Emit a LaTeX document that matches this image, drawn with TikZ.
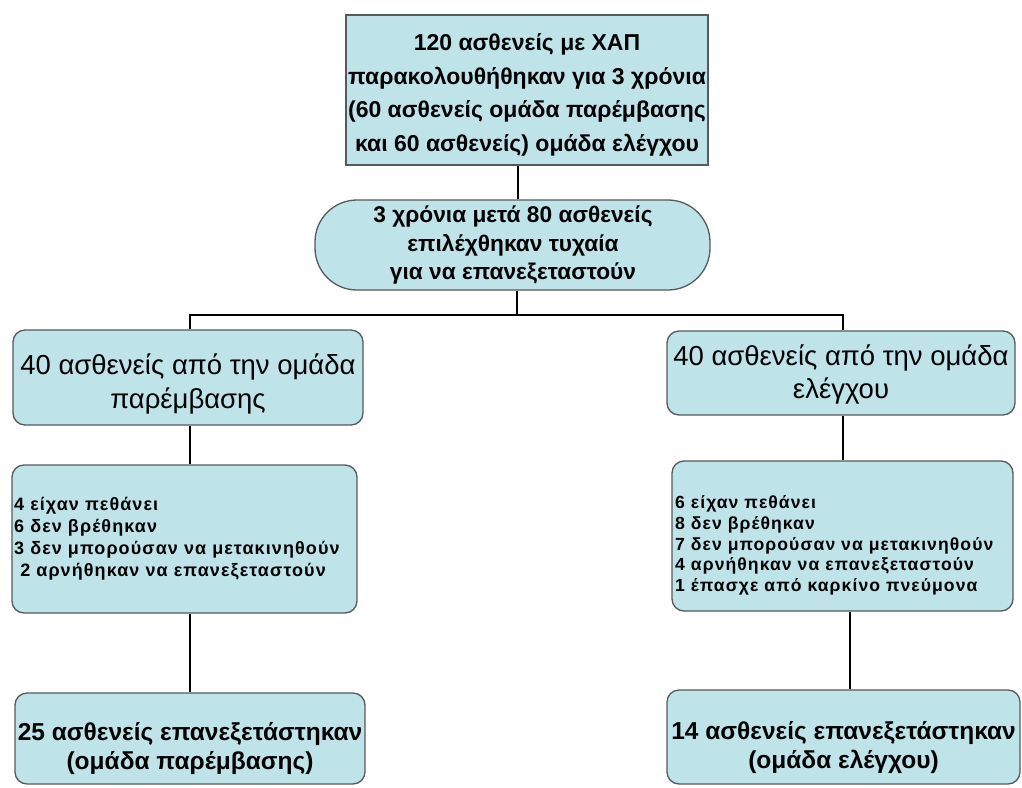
\documentclass[tikz,border=0pt]{standalone}
\usepackage{fontspec}
\setmainfont{Liberation Sans}
\newfontfamily\listfont[LetterSpace=6]{Liberation Sans}
\definecolor{boxfill}{RGB}{190,227,232}
\definecolor{boxline}{RGB}{85,90,92}
\begin{document}
\begin{tikzpicture}[x=1pt,y=-1pt,
  box/.style={draw=boxline, fill=boxfill, line width=1.3pt, rounded corners=12pt, inner sep=0pt},
  txt/.style={inner sep=0pt, align=center},
  listtxt/.style={inner sep=0pt, align=left, anchor=west},
  conn/.style={draw=black, line width=2.4pt}]
\useasboundingbox[fill=white] (0,0) rectangle (1022,787);
% boxes
\node[box, rounded corners=0pt, minimum width=362pt, minimum height=150pt] (top) at (527,90) {};
\node[box, rounded corners=42pt, minimum width=395pt, minimum height=90pt] (stad) at (512.5,245) {};
\node[box, minimum width=350pt, minimum height=95pt] (L1) at (188,377.5) {};
\node[box, minimum width=348pt, minimum height=84pt] (R1) at (841,373) {};
\node[box, minimum width=345pt, minimum height=148pt] (L2) at (184.5,539) {};
\node[box, minimum width=341pt, minimum height=150pt] (R2) at (842.5,536) {};
\node[box, minimum width=350pt, minimum height=91pt] (L3) at (190,738.5) {};
\node[box, minimum width=353pt, minimum height=94pt] (R3) at (843.5,737) {};
% texts
\node[txt, font=\fontsize{23}{33.7}\selectfont\bfseries] (topt) at (527,95)
  {120 ασθενείς με ΧΑΠ\\παρακολουθήθηκαν για 3 χρόνια\\(60 ασθενείς ομάδα παρέμβασης\\και 60 ασθενείς) ομάδα ελέγχου};
\node[txt, font=\fontsize{22.7}{28.5}\selectfont\bfseries] (stadt) at (513,245)
  {3 χρόνια μετά 80 ασθενείς\\επιλέχθηκαν τυχαία\\για να επανεξεταστούν};
\node[txt, font=\fontsize{27.5}{34}\selectfont] (L1t) at (188,383.5)
  {40 ασθενείς από την ομάδα\\παρέμβασης};
\node[txt, font=\fontsize{27.5}{33}\selectfont] (R1t) at (841,374)
  {40 ασθενείς από την ομάδα\\ελέγχου};
\node[listtxt, font=\fontsize{18}{22}\listfont\bfseries] (L2t) at (14,539)
  {4 είχαν πεθάνει\\6 δεν βρέθηκαν\\3 δεν μπορούσαν να μετακινηθούν\\\ 2 αρνήθηκαν να επανεξεταστούν};
\node[listtxt, font=\fontsize{17.6}{20.75}\listfont\bfseries] (R2t) at (675,545.5)
  {6 είχαν πεθάνει\\8 δεν βρέθηκαν\\7 δεν μπορούσαν να μετακινηθούν\\4 αρνήθηκαν να επανεξεταστούν\\1 έπασχε από καρκίνο πνεύμονα};
\node[txt, font=\fontsize{24.5}{29}\selectfont\bfseries] (L3t) at (190,749)
  {25 ασθενείς επανεξετάστηκαν\\(ομάδα παρέμβασης)};
\node[txt, font=\fontsize{24.5}{29}\selectfont\bfseries] (R3t) at (843.5,748)
  {14 ασθενείς επανεξετάστηκαν\\(ομάδα ελέγχου)};
% helper coordinates
\coordinate (tx) at (518,0);
\coordinate (bus) at (517,315);
\coordinate (cL) at (190,315);
\coordinate (cR) at (843,315);
\coordinate (lx) at (190,0);
\coordinate (rx) at (843,0);
\coordinate (rx2) at (850,0);
% connectors
\draw[conn] (top.south -| tx) -- (stad.north -| tx);
\draw[conn] (stad.south -| bus) -- (bus);
\draw[conn] (L1.north -| cL) -- (cL) -- (cR) -- (R1.north -| cR);
\draw[conn] (L1.south -| lx) -- (L2.north -| lx);
\draw[conn] (L2.south -| lx) -- (L3.north -| lx);
\draw[conn] (R1.south -| rx) -- (R2.north -| rx);
\draw[conn] (R2.south -| rx2) -- (R3.north -| rx2);
\end{tikzpicture}
\end{document}
